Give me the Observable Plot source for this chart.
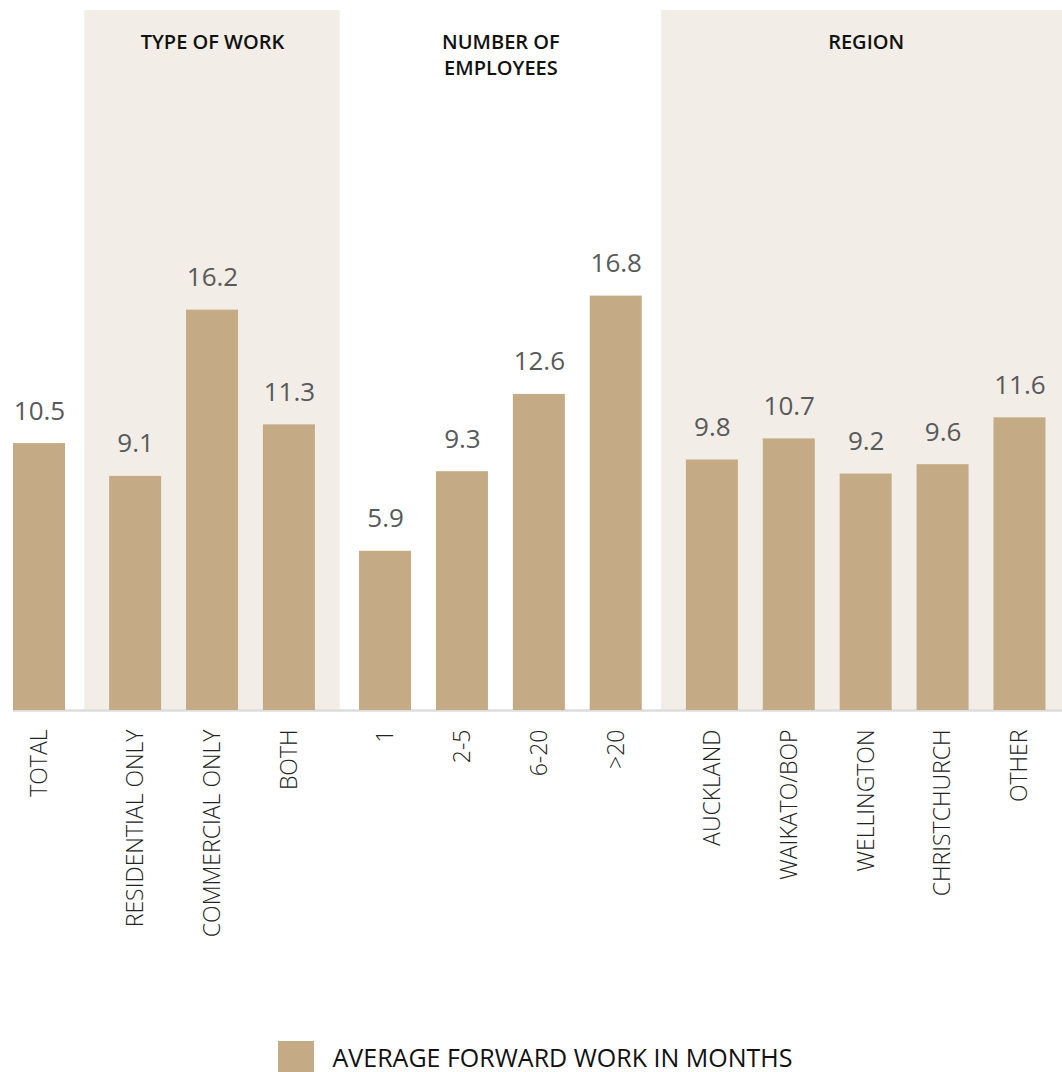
<!DOCTYPE html>
<html>
<head>
<meta charset="utf-8">
<script src="https://cdn.jsdelivr.net/npm/d3@7"></script>
<script src="https://cdn.jsdelivr.net/npm/@observablehq/plot@0.6"></script>
<style>
  body { margin: 0; background: #fff; font-family: "Open Sans", sans-serif; overflow: hidden; }
  #chart svg { display: block; }
  .legend { display: flex; justify-content: center; align-items: flex-start; margin-top: 41px; gap: 19px; padding-left: 8px; }
  .legend .sw { width: 36px; height: 31px; background: #c4aa85; }
  .legend .lb { font-size: 25px; line-height: 1; margin-top: 4px; font-weight: 500; color: #111; }
</style>
</head>
<body>
<div id="chart"></div>
<div class="legend"><div class="sw"></div><div class="lb">AVERAGE FORWARD WORK IN MONTHS</div></div>
<script>
const categories = ["TOTAL", "RESIDENTIAL ONLY", "COMMERCIAL ONLY", "BOTH", "1", "2-5", "6-20", ">20", "AUCKLAND", "WAIKATO/BOP", "WELLINGTON", "CHRISTCHURCH", "OTHER"];
const values = [10.5, 9.1, 16.2, 11.3, 5.9, 9.3, 12.6, 16.8, 9.8, 10.7, 9.2, 9.6, 11.6];
const groupOf = [0, 1, 1, 1, 2, 2, 2, 2, 3, 3, 3, 3, 3];
const groupTitles = ["", "TYPE OF WORK", "NUMBER OF\nEMPLOYEES", "REGION"];
const shadedGroups = [1, 3];
const seriesName = "AVERAGE FORWARD WORK IN MONTHS";

const GAP = 0.25;
const HALF_BAR = 0.338;
const Y0 = -0.9;

const data = categories.map((c, i) => ({label: c, value: values[i], group: groupOf[i], pos: i + groupOf[i] * GAP}));
const labelByPos = new Map(data.map(d => [d.pos, d.label]));

const groups = groupTitles.map((t, g) => {
  const ps = data.filter(d => d.group === g).map(d => d.pos);
  return {title: t, g, lo: d3.min(ps), hi: d3.max(ps), mid: d3.mean(ps)};
});
const shaded = groups.filter(d => shadedGroups.includes(d.g));

const font = "Open Sans, sans-serif";

const chart = Plot.plot({
  width: 1062,
  height: 1000,
  marginTop: 10,
  marginBottom: 290,
  marginLeft: 0,
  marginRight: 0,
  style: {fontFamily: font, background: "#fff", overflow: "hidden"},
  x: {type: "linear", domain: [-0.507, 13.303], axis: null},
  y: {domain: [Y0, 29.0], axis: null},
  marks: [
    Plot.rect(shaded, {x1: d => d.lo - 0.66, x2: d => d.hi + 0.66, fill: "#f2ede6"}),
    Plot.ruleY([Y0], {x1: data[0].pos - HALF_BAR, x2: 13.303, stroke: "#dcdcdc", strokeWidth: 2.5}),
    Plot.rect(data, {x1: d => d.pos - HALF_BAR, x2: d => d.pos + HALF_BAR, y1: Y0, y2: "value", fill: "#c4aa85"}),
    Plot.text(data, {x: "pos", y: "value", text: d => d.value.toFixed(1), dy: -24, lineAnchor: "bottom", fontSize: 26, fill: "#58595b"}),
    Plot.text(groups.filter(d => d.title), {x: "mid", frameAnchor: "top", text: "title", lineAnchor: "top", dy: 20, fontSize: 20, fontWeight: 600, fill: "#111", lineHeight: 1.3}),
    Plot.axisX(data.map(d => d.pos), {tickFormat: p => labelByPos.get(p), tickRotate: -90, tickSize: 0, tickPadding: 19, fontSize: 23, fontWeight: 300, fill: "#222", textAnchor: "end"})
  ]
});
document.getElementById("chart").appendChild(chart);
</script>
</body>
</html>
